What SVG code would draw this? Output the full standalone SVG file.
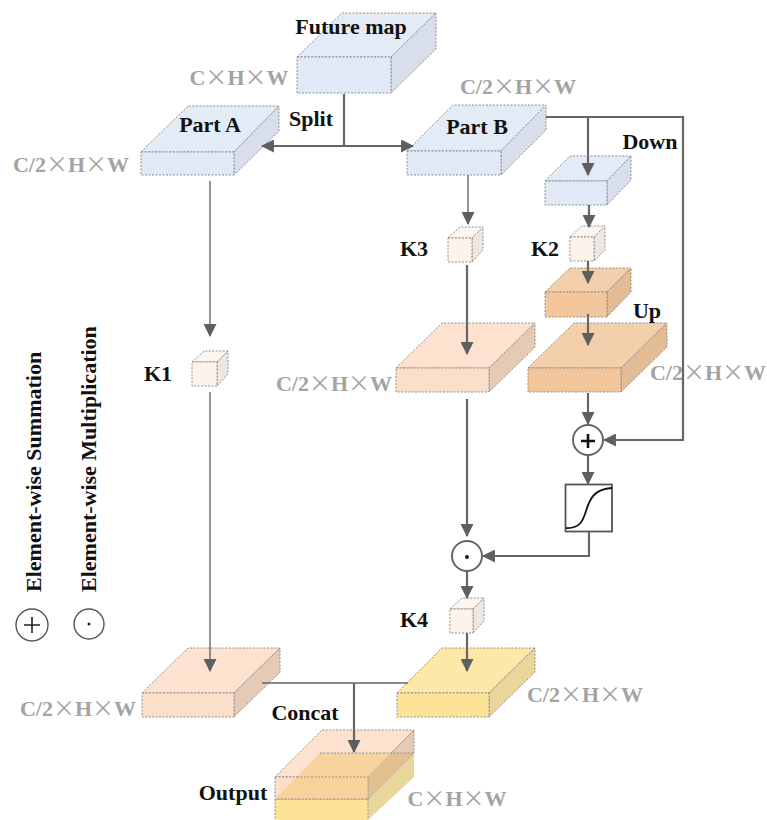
<svg xmlns="http://www.w3.org/2000/svg" width="767" height="820" viewBox="0 0 767 820">
<style>
text{font-family:"Liberation Serif","Times New Roman",serif;font-weight:bold}
.l{font-size:22px;fill:#111}
.d{font-size:22px;fill:#a3a3a3}
.d tspan{font-family:"Noto Sans CJK SC","Liberation Sans",sans-serif;font-weight:400}
.e{stroke:#8f8f8f;stroke-width:1;stroke-dasharray:2 1.5}
.c{fill:none;stroke:#666;stroke-width:2.2}
.t{stroke:#666;stroke-width:1.4;fill:none}
.bt{fill:#e3ebf7}.bf{fill:#e2e9f6}.bs{fill:#d8deea}
.pt{fill:#fde3cf}.pf{fill:#fbdfc8}.ps{fill:#e5cbb6}
.ot{fill:#f3cfab}.of{fill:#f3c69b}.os{fill:#e3bb94}
.yt{fill:#fde8a8}.yf{fill:#fde397}.ys{fill:#e9d69a}
.kt{fill:#fdf5ee}.kf{fill:#fdf3eb}.ks{fill:#eee6e0}
</style>
<defs>
<marker id="a" viewBox="0 0 12 12" refX="11" refY="6" markerWidth="13" markerHeight="13" markerUnits="userSpaceOnUse" orient="auto"><path d="M0 0L12 6L0 12Z" fill="#5f5f5f"/></marker>
</defs>
<rect width="767" height="820" fill="#fff"/>

<g id="future-map">
<path class="bt e" d="M297 57L342 13H436L391 57Z"/><path class="bs e" d="M391 57L436 13V49L391 93Z"/><rect class="bf e" x="297" y="57" width="94" height="36"/>
<text class="l" x="351" y="34" text-anchor="middle">Future map</text>
<text class="d" x="239" y="85" text-anchor="middle">C<tspan>×</tspan>H<tspan>×</tspan>W</text>
</g>
<g id="part-a">
<path class="bt e" d="M141 152L188 106H279L234 152Z"/><path class="bs e" d="M234 152L279 106V131L234 175Z"/><rect class="bf e" x="141" y="152" width="93" height="23"/>
<text class="l" x="210" y="132" text-anchor="middle">Part A</text>
<text class="d" x="71" y="172" text-anchor="middle">C/2<tspan>×</tspan>H<tspan>×</tspan>W</text>
</g>
<g id="part-b">
<path class="bt e" d="M407 151L453 105H546L501 151Z"/><path class="bs e" d="M501 151L546 105V130L501 175Z"/><rect class="bf e" x="407" y="151" width="94" height="24"/>
<text class="l" x="477" y="134" text-anchor="middle">Part B</text>
<text class="d" x="518" y="94" text-anchor="middle">C/2<tspan>×</tspan>H<tspan>×</tspan>W</text>
</g>
<g id="down">
<path class="bt e" d="M545 181L570 156H631L607 181Z"/><path class="bs e" d="M607 181L631 156V180L607 205Z"/><rect class="bf e" x="545" y="181" width="62" height="24"/>
<text class="l" x="650" y="149" text-anchor="middle">Down</text>
</g>
<g id="k3">
<path class="kt e" d="M448 238L460 227H483L472 238Z"/><path class="ks e" d="M472 238L483 227V250L472 262Z"/><rect class="kf e" x="448" y="238" width="24" height="24"/>
<text class="l" x="414" y="256" text-anchor="middle">K3</text>
</g>
<g id="k2">
<path class="kt e" d="M570 237L582 226H605L594 237Z"/><path class="ks e" d="M594 237L605 226V250L594 261Z"/><rect class="kf e" x="570" y="237" width="24" height="24"/>
<text class="l" x="545" y="256" text-anchor="middle">K2</text>
</g>
<g id="k1">
<path class="kt e" d="M192 362L204 351H228L217 362Z"/><path class="ks e" d="M217 362L228 351V374L217 386Z"/><rect class="kf e" x="192" y="362" width="25" height="24"/>
<text class="l" x="158" y="381" text-anchor="middle">K1</text>
</g>
<g id="k4">
<path class="kt e" d="M450 609L462 598H484L473 609Z"/><path class="ks e" d="M473 609L484 598V621L473 633Z"/><rect class="kf e" x="450" y="609" width="23" height="24"/>
<text class="l" x="414" y="627" text-anchor="middle">K4</text>
</g>
<g id="up-small">
<path class="ot e" d="M545 292L570 268H631L607 292Z"/><path class="os e" d="M607 292L631 268V292L607 317Z"/><rect class="of e" x="545" y="292" width="62" height="25"/>
</g>
<g id="peach-mid">
<path class="pt e" d="M396 368L442 323H535L489 368Z"/><path class="ps e" d="M489 368L535 323V347L489 392Z"/><rect class="pf e" x="396" y="368" width="93" height="24"/>
<text class="d" x="334" y="391" text-anchor="middle">C/2<tspan>×</tspan>H<tspan>×</tspan>W</text>
</g>
<g id="up-large">
<path class="ot e" d="M528 368L574 323H667L621 368Z"/><path class="os e" d="M621 368L667 323V347L621 392Z"/><rect class="of e" x="528" y="368" width="93" height="24"/>
<text class="l" x="647" y="318" text-anchor="middle">Up</text>
<text class="d" x="708" y="380" text-anchor="middle">C/2<tspan>×</tspan>H<tspan>×</tspan>W</text>
</g>
<g id="peach-bottom">
<path class="pt e" d="M142 693L188 648H280L234 693Z"/><path class="ps e" d="M234 693L280 648V672L234 717Z"/><rect class="pf e" x="142" y="693" width="92" height="24"/>
<text class="d" x="78" y="716" text-anchor="middle">C/2<tspan>×</tspan>H<tspan>×</tspan>W</text>
</g>
<g id="yellow-bottom">
<path class="yt e" d="M397 693L442 648H535L489 693Z"/><path class="ys e" d="M489 693L535 648V672L489 717Z"/><rect class="yf e" x="397" y="693" width="92" height="24"/>
<text class="d" x="585" y="702" text-anchor="middle">C/2<tspan>×</tspan>H<tspan>×</tspan>W</text>
</g>
<g id="output">
<path class="yf" d="M275 799H368V820H275Z"/><path class="ys" d="M368 799L414 753V777L368 820Z"/>
<path class="pt e" d="M275 777L322 730H414L368 777Z"/>
<path class="ps e" d="M368 777L414 730V753L368 799Z"/>
<rect class="pf e" x="275" y="777" width="93" height="22"/>
<path d="M320 753H391L368 777H297Z" fill="#f7d49c"/>
<path d="M391 753H414L368 799V777Z" fill="#e2bf90"/>
<path d="M297 777H368V799H275Z" fill="#f8d29b"/>
<path class="e" fill="none" d="M320 753H414M297 777H368V799H275M275 799V820M368 799V820"/>
<text class="l" x="233" y="800" text-anchor="middle">Output</text>
<text class="d" x="457" y="806" text-anchor="middle">C<tspan>×</tspan>H<tspan>×</tspan>W</text>
<text class="l" x="305" y="720" text-anchor="middle">Concat</text>
</g>
<g id="sum-node"><circle cx="588" cy="440" r="15" fill="#fff" stroke="#666" stroke-width="2"/><path d="M581 441H595M588 434V448" stroke="#111" stroke-width="2.600"/></g>
<g id="mul-node"><circle cx="467" cy="556" r="15" fill="#fff" stroke="#666" stroke-width="2"/><circle cx="467" cy="557" r="2" fill="#111"/></g>
<g id="sigmoid"><rect x="565.500" y="484.500" width="46.500" height="47" fill="#fff" stroke="#555" stroke-width="1.800"/><path d="M566 528C585 529 584 513 589 503C593 493 600 489 612 488" fill="none" stroke="#111" stroke-width="1.800"/></g>
<g id="legend">
<circle cx="32" cy="625" r="16" fill="#fff" stroke="#555" stroke-width="1.400"/><path d="M24 625H40M32 617V633" stroke="#222" stroke-width="1.600"/>
<circle cx="89" cy="624" r="15" fill="#fff" stroke="#555" stroke-width="1.400"/><circle cx="89" cy="624" r="1.500" fill="#222"/>
<text class="l" transform="translate(41 592) rotate(-90)">Element-wise Summation</text>
<text class="l" transform="translate(96 592) rotate(-90)">Element-wise Multiplication</text>
</g>
<g id="connectors">
<text class="l" x="311" y="126" text-anchor="middle">Split</text>
<path class="c" d="M344 94V146"/>
<path class="c" d="M344 146H262" marker-end="url(#a)"/>
<path class="c" d="M344 146H413" marker-end="url(#a)"/>
<path class="t" d="M210 181V336" marker-end="url(#a)"/>
<path class="t" d="M210 392V671" marker-end="url(#a)"/>
<path class="t" d="M468 175V224" marker-end="url(#a)"/>
<path class="c" d="M467 265V354" stroke-width="1.800" marker-end="url(#a)"/>
<path class="c" d="M467 399V536" stroke-width="1.800" marker-end="url(#a)"/>
<path class="c" d="M546 117H683V440H604" marker-end="url(#a)"/>
<path class="c" d="M588 117V175" marker-end="url(#a)"/>
<path class="c" d="M589 205V227" marker-end="url(#a)"/>
<path class="c" d="M588 261V283" marker-end="url(#a)"/>
<path class="c" d="M588 314V345" marker-end="url(#a)"/>
<path class="c" d="M588 393V424" marker-end="url(#a)"/>
<path class="c" d="M588 455V484" marker-end="url(#a)"/>
<path class="c" d="M589 531V556H483" marker-end="url(#a)"/>
<path class="c" d="M467 571V598" marker-end="url(#a)"/>
<path class="c" d="M467 633V671" stroke-width="1.800" marker-end="url(#a)"/>
<path class="t" d="M262 683H408"/>
<path class="c" d="M354 683V752" stroke-width="1.800" marker-end="url(#a)"/>
</g>
</svg>
